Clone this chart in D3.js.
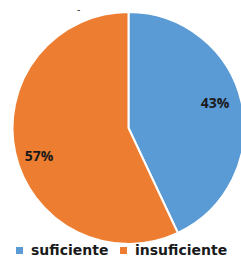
<!DOCTYPE html>
<html><head><meta charset="utf-8">
<script src="https://cdn.jsdelivr.net/npm/d3@7"></script>
<style>body{margin:0;background:#fff;}svg{display:block;}</style>
</head><body>
<svg id="c" width="241" height="259"></svg>
<script>
const categories = ["suficiente", "insuficiente"];
const values = [43, 57];
const colors = ["#5B9BD5", "#ED7D31"];

const svg = d3.select("#c");
const cx = 128.5, cy = 128, r = 116;
const pie = d3.pie().sort(null).value(d => d)(values);
const arc = d3.arc().innerRadius(0).outerRadius(r);
const g = svg.append("g").attr("transform", `translate(${cx},${cy})`);
g.selectAll("path").data(pie).enter().append("path")
  .attr("d", arc).attr("fill", (d, i) => colors[i])
  .attr("stroke", "#fff").attr("stroke-width", 2);

const labelPos = [[86.5, -26], [-89.5, 27]];
g.selectAll("text.lbl").data(pie).enter().append("text")
  .attr("class", "lbl")
  .attr("x", (d, i) => labelPos[i][0]).attr("y", (d, i) => labelPos[i][1])
  .attr("text-anchor", "middle").attr("dominant-baseline", "central")
  .attr("font-family", "Open Sans, sans-serif").attr("font-weight", "bold")
  .attr("font-size", 14).attr("fill", "#1a1a1a")
  .text(d => d.data + "%");

svg.append("text").attr("x", 77).attr("y", 13).attr("font-size", 10)
  .attr("font-family", "Liberation Sans, sans-serif").attr("fill", "#333").text("-");

// legend
const legX = [16, 120];
const lg = svg.append("g");
categories.forEach((c, i) => {
  lg.append("rect").attr("x", legX[i]).attr("y", 247).attr("width", 7).attr("height", 7).attr("fill", colors[i]);
  lg.append("text").attr("x", legX[i] + 15).attr("y", 255)
    .attr("font-family", "DejaVu Sans, sans-serif").attr("font-weight", "bold")
    .attr("font-size", 14).attr("fill", "#1a1a1a").text(c);
});
</script>
</body></html>
